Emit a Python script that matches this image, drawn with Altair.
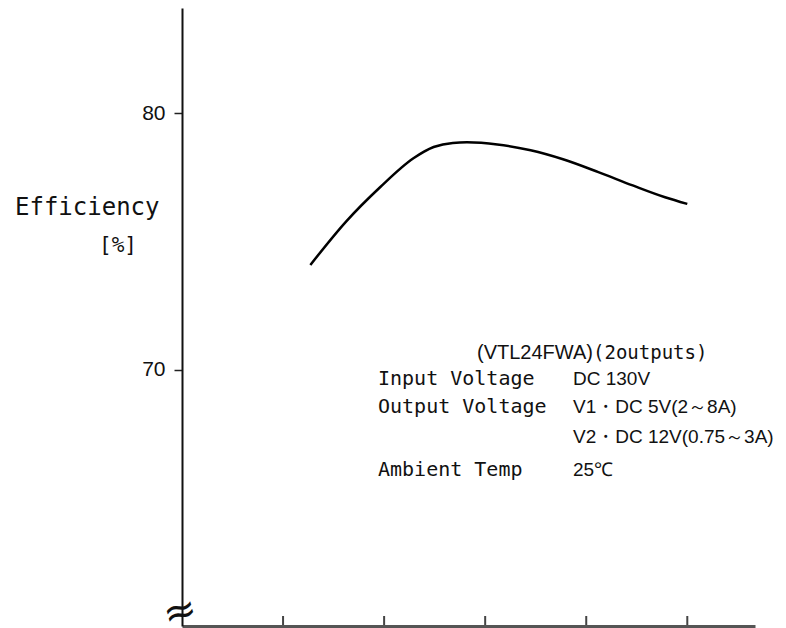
import altair as alt
import pandas as pd

# ---- data ----
load = [1.27, 1.63, 1.96, 2.29, 2.49, 2.68, 2.82, 3.12, 3.45, 3.77, 4.12, 4.46, 4.78, 5.0]
efficiency = [74.08, 75.80, 77.11, 78.24, 78.68, 78.84, 78.86, 78.78, 78.55, 78.20, 77.70, 77.18, 76.72, 76.46]
x_ticks = [1, 2, 3, 4, 5]
y_ticks = [70, 80]

title_line = ["(VTL24FWA)", "(2outputs)"]
spec_names = ["Input Voltage", "Output Voltage", "", "Ambient Temp"]
spec_values = ["DC 130V", "V1・DC 5V(2～8A)", "V2・DC 12V(0.75～3A)", "25℃"]

W, H = 573, 618
OX, OY = 182, 8  # plot origin on page

curve = pd.DataFrame({"load": load, "eff": efficiency})
ticks = pd.DataFrame({"load": x_ticks})

xs = alt.Scale(domain=[0, 5.67], nice=False, zero=False)
ys = alt.Scale(domain=[60, 84.1], nice=False, zero=False)

line = alt.Chart(curve).mark_line(color="black", strokeWidth=2.5, interpolate="monotone").encode(
    x=alt.X("load:Q", scale=xs,
            axis=alt.Axis(title=None, labels=False, ticks=False, grid=False,
                          domainColor="#555555", domainWidth=3)),
    y=alt.Y("eff:Q", scale=ys,
            axis=alt.Axis(title=None, values=y_ticks, grid=False, tickSize=8, tickWidth=1.5,
                          tickColor="#222222", labelPadding=9, labelFont="Liberation Sans",
                          labelFontSize=21, labelColor="#111111",
                          domainColor="#111111", domainWidth=2)),
)

xtick_rules = alt.Chart(ticks).mark_rule(color="#444444", strokeWidth=2).encode(
    x=alt.X("load:Q", scale=xs),
    y=alt.value(H - 10),
    y2=alt.value(H - 1),
)


def txt(text, px, py, size=20, font="DejaVu Sans Mono", align="left", angle=0):
    kw = dict(text=text, fontSize=size, font=font, align=align, baseline="middle", color="#111111")
    if angle:
        kw["angle"] = angle
    return alt.Chart(pd.DataFrame({"t": [0]})).mark_text(**kw).encode(
        x=alt.value(px - OX), y=alt.value(py - OY)
    )


rows_y = [379, 407, 437, 470]
layers = [line, xtick_rules,
          txt("Efficiency", 15, 208, size=24),
          txt("[%]", 99, 246, size=21),
          txt("≈", 180, 612, size=40, font="DejaVu Sans", align="center", angle=345),
          txt(title_line[0], 477, 353, size=20, font="Liberation Sans"),
          txt(title_line[1], 593, 353, size=19)]
for name, val, ry in zip(spec_names, spec_values, rows_y):
    if name:
        layers.append(txt(name, 378, ry, size=20))
    layers.append(txt(val, 573, ry, size=19, font="Liberation Sans"))

chart = alt.layer(*layers).properties(
    width=W, height=H,
    autosize=alt.AutoSizeParams(type="none"),
    padding={"left": OX - 8, "top": OY - 8, "right": 23, "bottom": 2},
).configure_view(stroke=None)

chart.save("out.html", embed_options={"renderer": "svg", "actions": False})
